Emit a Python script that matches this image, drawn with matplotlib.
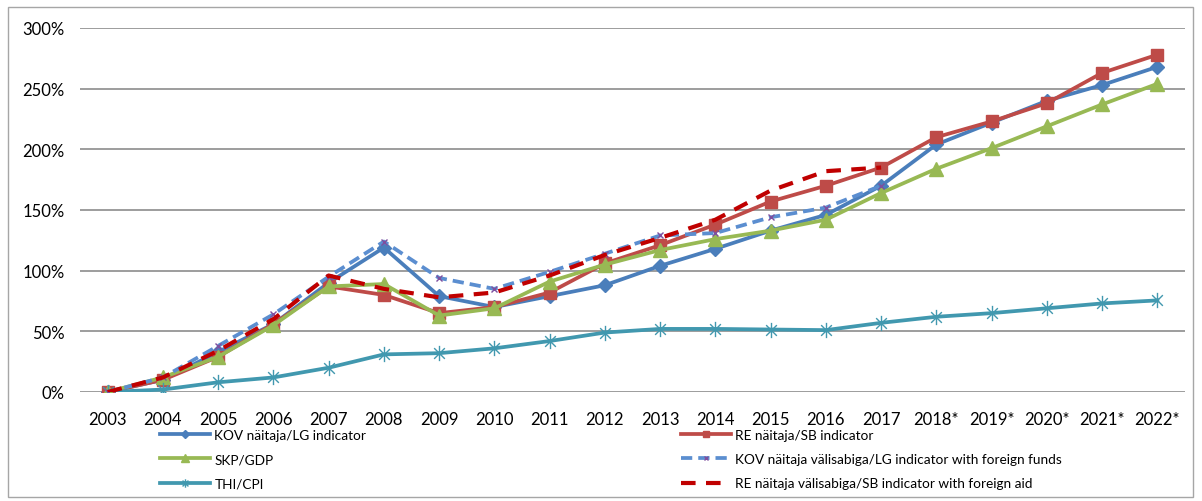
import numpy as np
import matplotlib
matplotlib.use("Agg")
import matplotlib.pyplot as plt
from matplotlib.path import Path
from matplotlib.patches import Rectangle
from matplotlib.ticker import PercentFormatter

plt.rcParams['font.family'] = ['Lato', 'DejaVu Sans']

years = ['2003', '2004', '2005', '2006', '2007', '2008', '2009', '2010', '2011',
         '2012', '2013', '2014', '2015', '2016', '2017',
         '2018*', '2019*', '2020*', '2021*', '2022*']
nan = np.nan

kov = [0, 10, 33, 56, 90, 119, 79, 70, 79, 88, 104, 118, 133, 146, 170, 204, 222, 240, 253, 268]
re_ = [0, 10, 29, 56, 87, 80, 65, 70, 82, 106, 121, 138, 157, 170, 185, 210, 223, 238, 263, 278]
gdp = [0, 12, 29, 55, 87, 89, 63, 69, 91, 105, 117, 126, 133, 142, 164, 184, 201, 219, 237, 254]
kov_ff = [0, 12, 38, 64, 95, 124, 94, 85, 99, 114, 129, 131, 144, 152, 170,
          nan, nan, nan, nan, nan]
cpi = [0, 2, 8, 12, 20, 31, 32, 36, 42, 49, 52, 52, 51.5, 51, 57, 62, 65, 69, 73, 75.5]
re_fa = [0, 12, 34, 60, 96, 85, 78, 82, 96, 113, 127, 142, 166, 182, 185,
         nan, nan, nan, nan, nan]

labels = ['KOV näitaja/LG indicator', 'RE näitaja/SB indicator', 'SKP/GDP',
          'KOV näitaja välisabiga/LG indicator with foreign funds', 'THI/CPI',
          'RE näitaja välisabiga/SB indicator with foreign aid']

# excel style asterisk marker
star = Path([(0, -1), (0, 1), (-0.7, -0.7), (0.7, 0.7), (-0.7, 0.7), (0.7, -0.7)],
            [Path.MOVETO, Path.LINETO, Path.MOVETO, Path.LINETO, Path.MOVETO, Path.LINETO])

fig = plt.figure(figsize=(12.02, 5.02), dpi=100)
ax = fig.add_axes([80 / 1202, 109 / 502, 1105 / 1202, 364 / 502])
x = np.arange(len(years))

lw = 2.7
h1, = ax.plot(x, kov, color='#4A7EBB', lw=lw, marker='D', ms=7, label=labels[0], zorder=3)
h2, = ax.plot(x, re_, color='#BE4B48', lw=lw, marker='s', ms=9, label=labels[1], zorder=3)
h3, = ax.plot(x, gdp, color='#98B954', lw=lw, marker='^', ms=10, label=labels[2], zorder=3)
h4, = ax.plot(x, kov_ff, color='#5B8ED0', lw=lw, ls=(0, (3, 1.6)), marker='x', ms=4,
              mec='#7F4F9F', mew=1, label=labels[3], zorder=4)
h5, = ax.plot(x, cpi, color='#4198AF', lw=lw, marker=star, ms=11, mew=1, label=labels[4], zorder=3)
h6, = ax.plot(x, re_fa, color='#C00000', lw=3, ls=(0, (3.5, 2.5)), label=labels[5], zorder=5)

ax.set_xlim(-0.5, len(years) - 0.5)
ax.set_ylim(0, 300)
ax.set_yticks(np.arange(0, 301, 50))
ax.yaxis.set_major_formatter(PercentFormatter(xmax=100, decimals=0))
ax.set_xticks(x)
ax.set_xticklabels(years)
ax.tick_params(axis='both', length=0, labelsize=12, colors='black')
ax.tick_params(axis='y', pad=11)
ax.tick_params(axis='x', pad=14)
ax.grid(axis='y', color='#8C8C8C', lw=1.2)
ax.set_axisbelow(True)
for s in ax.spines.values():
    s.set_visible(False)

leg_kw = dict(frameon=False, fontsize=9.8, handlelength=3.7, handletextpad=0.3,
              labelspacing=0.9, borderpad=0, borderaxespad=0, markerscale=0.55,
              loc='upper left')
fig.legend([h1, h3, h5], [labels[0], labels[2], labels[4]],
           bbox_to_anchor=(160 / 1202, 1 - 430 / 502), **leg_kw)
fig.legend([h2, h4, h6], [labels[1], labels[3], labels[5]],
           bbox_to_anchor=(681 / 1202, 1 - 430 / 502), **leg_kw)

fig.patches.append(Rectangle((8 / 1202, 4 / 502), 1185 / 1202, 490 / 502,
                             transform=fig.transFigure, fill=False,
                             edgecolor='#A6A6A6', lw=1))

fig.savefig('out.png', dpi=100)
